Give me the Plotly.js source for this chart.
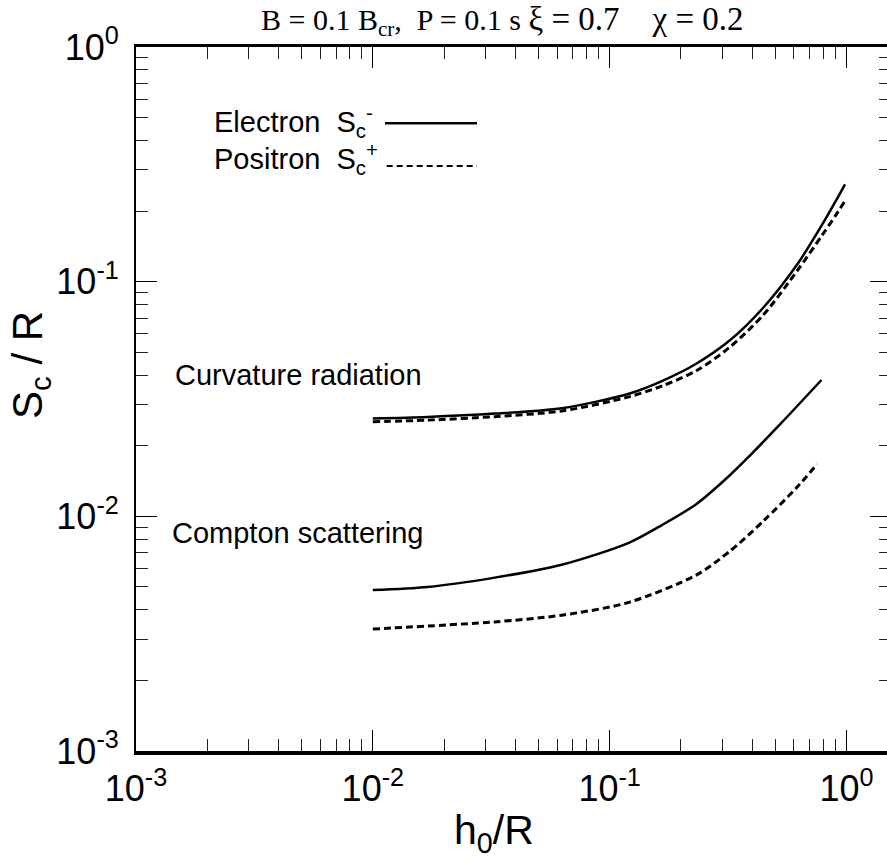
<!DOCTYPE html>
<html>
<head>
<meta charset="utf-8">
<script src="https://cdn.plot.ly/plotly-3.0.1.min.js"></script>
<style>
html,body{margin:0;padding:0;overflow:hidden;background:#fff;}
#plot{width:895px;height:861px;}
</style>
</head>
<body>
<div id="plot"></div>
<script>
// Curvature radiation, electron (solid)
const curvElecX = [0.01, 0.017, 0.0327, 0.0628, 0.1205, 0.167, 0.232, 0.321, 0.446, 0.618, 0.787, 0.895, 0.986];
const curvElecY = [0.0261, 0.0265, 0.0274, 0.0289, 0.0333, 0.0378, 0.0447, 0.0561, 0.0776, 0.118, 0.174, 0.218, 0.260];
// Curvature radiation, positron (dashed)
const curvPosX = [0.01, 0.017, 0.0327, 0.0628, 0.1205, 0.167, 0.232, 0.321, 0.446, 0.618, 0.787, 0.895, 0.98];
const curvPosY = [0.0253, 0.0257, 0.0266, 0.0281, 0.0323, 0.0360, 0.0417, 0.0525, 0.0722, 0.111, 0.157, 0.19, 0.219];
// Compton scattering, electron (solid)
const compElecX = [0.01, 0.017, 0.0327, 0.0628, 0.1205, 0.167, 0.232, 0.321, 0.391, 0.525, 0.784];
const compElecY = [0.00485, 0.0050, 0.00548, 0.00622, 0.00771, 0.0092, 0.01127, 0.01493, 0.01816, 0.0247, 0.0381];
// Compton scattering, positron (dashed)
const compPosX = [0.01, 0.0327, 0.0628, 0.1205, 0.232, 0.321, 0.446, 0.618, 0.751];
const compPosY = [0.00331, 0.00355, 0.00379, 0.00430, 0.00562, 0.00709, 0.00955, 0.0133, 0.01667];

const xTickVals = [0.001, 0.01, 0.1, 1];
const xTickText = ['10<sup>-3</sup>', '10<sup>-2</sup>', '10<sup>-1</sup>', '10<sup>0</sup>'];
const yTickVals = [0.001, 0.01, 0.1, 1];
const yTickText = ['10<sup>-3</sup>', '10<sup>-2</sup>', '10<sup>-1</sup>', '10<sup>0</sup>'];

function minorVals(d0, d1) {
  const v = [];
  for (let d = d0; d <= d1; d++) for (let k = 2; k <= 9; k++) v.push(k * Math.pow(10, d));
  return v;
}

const solid = {color: '#000', width: 2.5, shape: 'spline', smoothing: 0.8};
const dashed = {color: '#000', width: 3, dash: '7px,4px', shape: 'spline', smoothing: 0.8};

const traces = [
  {x: curvElecX, y: curvElecY, mode: 'lines', line: solid, name: 'Electron'},
  {x: curvPosX, y: curvPosY, mode: 'lines', line: dashed, name: 'Positron'},
  {x: compElecX, y: compElecY, mode: 'lines', line: solid, name: 'Electron'},
  {x: compPosX, y: compPosY, mode: 'lines', line: dashed, name: 'Positron'}
];

const sans = 'Liberation Sans, Arial, Helvetica, sans-serif';
const serif = 'Liberation Serif, Times New Roman, serif';

const layout = {
  width: 895, height: 861,
  margin: {l: 136, r: 4, t: 47, b: 110},
  paper_bgcolor: '#fff', plot_bgcolor: '#fff',
  showlegend: false,
  font: {family: sans, color: '#000'},
  xaxis: {
    type: 'log', range: [-3, 0.188],
    tickmode: 'array', tickvals: xTickVals, ticktext: xTickText,
    ticks: 'inside', ticklen: 21, tickwidth: 1, tickcolor: '#000',
    minor: {tickmode: 'array', tickvals: minorVals(-3, 0), ticks: 'inside', ticklen: 12, tickwidth: 1, tickcolor: '#222'},
    showline: true, linewidth: 3.5, linecolor: '#000', mirror: 'ticks',
    showgrid: false, zeroline: false,
    ticklabelstandoff: 3,
    tickfont: {family: sans, size: 36, color: '#000'}
  },
  yaxis: {
    type: 'log', range: [-3, 0],
    tickmode: 'array', tickvals: yTickVals, ticktext: yTickText,
    ticks: 'inside', ticklen: 21, tickwidth: 1, tickcolor: '#000',
    minor: {tickmode: 'array', tickvals: minorVals(-3, -1), ticks: 'inside', ticklen: 12, tickwidth: 1, tickcolor: '#222'},
    showline: true, linewidth: 2, linecolor: '#000', mirror: 'ticks',
    showgrid: false, zeroline: false,
    ticklabelstandoff: 8,
    tickfont: {family: sans, size: 36, color: '#000'}
  },
  annotations: [
    {xref: 'paper', yref: 'paper', x: 0.485, y: 1, yanchor: 'bottom', yshift: 4, showarrow: false,
     text: '<span style="font-size:30px">B = 0.1 B<sub>cr</sub>,\u00a0 P = 0.1 s </span>ξ = 0.7\u00a0\u00a0\u00a0 χ = 0.2',
     font: {family: serif, size: 33, color: '#000'}},
    {xref: 'paper', yref: 'paper', x: (494 - 136) / 755, y: (751 - 833) / 704, xanchor: 'center', yanchor: 'middle', showarrow: false,
     text: 'h<sub>0</sub>/R', font: {family: sans, size: 41, color: '#000'}},
    {xref: 'paper', yref: 'paper', x: (30 - 136) / 755, y: (751 - 365) / 704, xanchor: 'center', yanchor: 'middle', showarrow: false,
     textangle: -90, text: 'S<sub>c</sub> / R', font: {family: sans, size: 42, color: '#000'}},
    {xref: 'paper', yref: 'paper', x: (211.7 - 136) / 755, y: (751 - 122) / 704, xanchor: 'left', yanchor: 'middle', showarrow: false,
     text: 'Electron\u00a0 S<sub>c</sub><sup>-</sup>', font: {family: sans, size: 29, color: '#000'}},
    {xref: 'paper', yref: 'paper', x: (211.7 - 136) / 755, y: (751 - 159) / 704, xanchor: 'left', yanchor: 'middle', showarrow: false,
     text: 'Positron\u00a0 S<sub>c</sub><sup>+</sup>', font: {family: sans, size: 29, color: '#000'}},
    {xref: 'paper', yref: 'paper', x: (173.3 - 136) / 755, y: (751 - 375) / 704, xanchor: 'left', yanchor: 'middle', showarrow: false,
     text: 'Curvature radiation', font: {family: sans, size: 29, color: '#000'}},
    {xref: 'paper', yref: 'paper', x: (170 - 136) / 755, y: (751 - 533) / 704, xanchor: 'left', yanchor: 'middle', showarrow: false,
     text: 'Compton scattering', font: {family: sans, size: 29, color: '#000'}}
  ],
  shapes: [
    {type: 'line', xref: 'paper', yref: 'paper', x0: (385 - 136) / 755, x1: (477 - 136) / 755,
     y0: (751 - 123.3) / 704, y1: (751 - 123.3) / 704, line: {color: '#000', width: 2.5}},
    {type: 'line', xref: 'paper', yref: 'paper', x0: (386.7 - 136) / 755, x1: (477 - 136) / 755,
     y0: (751 - 166) / 704, y1: (751 - 166) / 704, line: {color: '#000', width: 2, dash: '6px,4px'}}
  ]
};

Plotly.newPlot('plot', traces, layout, {displayModeBar: false, staticPlot: true});
</script>
</body>
</html>
